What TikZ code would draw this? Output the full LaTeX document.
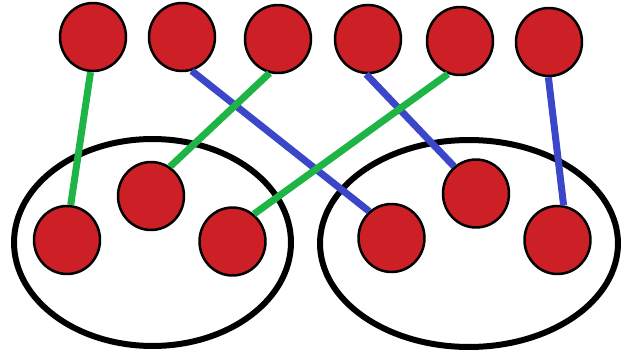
\documentclass[tikz,border=0pt]{standalone}
\usetikzlibrary{shapes.geometric}
\definecolor{dotred}{RGB}{205,32,38}
\definecolor{lgreen}{RGB}{30,180,70}
\definecolor{lblue}{RGB}{60,70,200}
\tikzset{
  dot/.style={ellipse,draw=black,fill=dotred,line width=0.05cm,inner sep=0pt,minimum width=1.32cm,minimum height=1.36cm},
  grp/.style={ellipse,draw=black,line width=0.12cm,inner sep=0pt},
  gline/.style={draw=lgreen,line width=0.14cm},
  bline/.style={draw=lblue,line width=0.14cm}
}
\begin{document}
\begin{tikzpicture}[x=0.02cm,y=-0.02cm]
\useasboundingbox (0,0) rectangle (627,352);
\node[grp,minimum width=5.54cm,minimum height=4.14cm] (g1) at (152.5,242.5) {};
\node[grp,minimum width=5.96cm,minimum height=4.14cm] (g2) at (469,243.5) {};
\node[dot] (t1) at (93,37) {};
\node[dot] (t2) at (182,37) {};
\node[dot] (t3) at (278,39) {};
\node[dot] (t4) at (368,39) {};
\node[dot] (t5) at (460,41) {};
\node[dot] (t6) at (549,42) {};
\node[dot] (b1) at (67,240) {};
\node[dot] (b2) at (151,196) {};
\node[dot] (b3) at (232.5,241.5) {};
\node[dot] (b4) at (391.5,238) {};
\node[dot] (b5) at (476,193.5) {};
\node[dot] (b6) at (557.5,240) {};
\draw[gline] (t1.-94.5) -- (b1.84);
\draw[bline] (t2.-74) -- (b4.130);
\draw[gline] (t3.-104) -- (b2.57.5);
\draw[bline] (t4.-93) -- (b5.129);
\draw[gline] (t5.-110) -- (b3.52.6);
\draw[bline] (t6.-91.5) -- (b6.80.5);
\end{tikzpicture}
\end{document}
